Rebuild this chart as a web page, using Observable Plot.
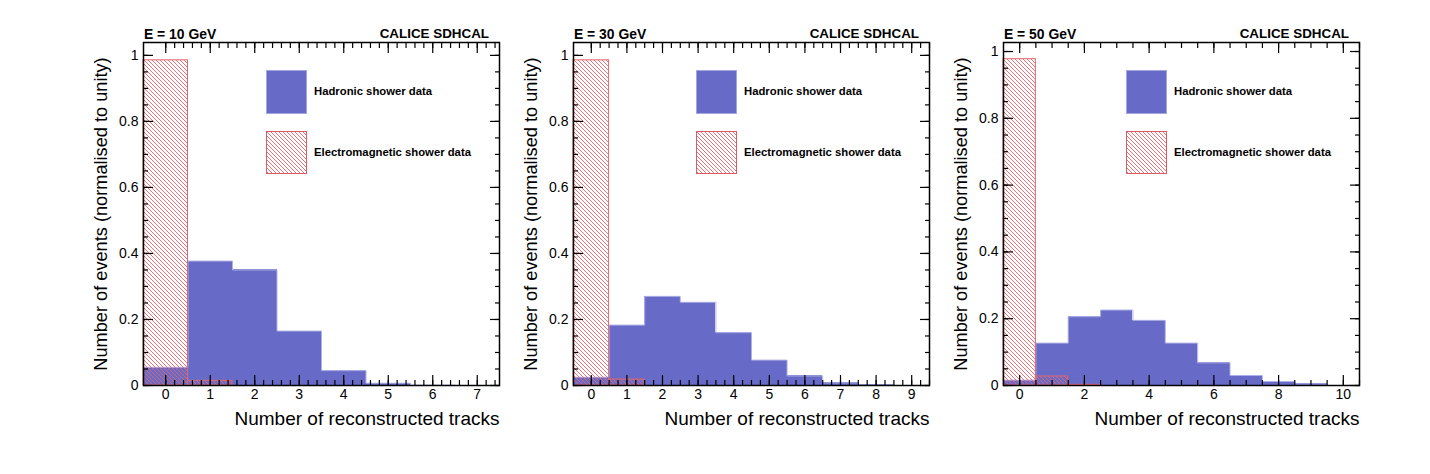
<!DOCTYPE html>
<html>
<head>
<meta charset="utf-8">
<script src="https://cdn.jsdelivr.net/npm/d3@7"></script>
<script src="https://cdn.jsdelivr.net/npm/@observablehq/plot@0.6"></script>
<style>
  html, body { margin: 0; padding: 0; background: #fff; overflow: hidden; }
  body { width: 1430px; height: 474px; position: relative; font-family: "Liberation Sans", sans-serif; }
  .panel { position: absolute; top: 0; width: 430px; height: 474px; }
  .panel svg { position: absolute; left: 0; top: 0; }
  .head { position: absolute; top: 27px; font-size: 13.4px; font-weight: bold; line-height: 14px; color: #000; }
  .swatch { position: absolute; left: 186px; width: 41px; box-sizing: border-box; }
  .had { top: 70px; height: 44px; background: #676bc7; border: 1px solid #a3a6e0; }
  .em { top: 131px; height: 43px; border: 1px solid #dd5a62;
    background-image: url("data:image/svg+xml,%3Csvg xmlns='http://www.w3.org/2000/svg' width='4' height='4'%3E%3Cpath d='M-1,-1L5,5M-1,3L1,5M3,-1L5,1' stroke='%23e4646b' stroke-width='0.9' fill='none'/%3E%3C/svg%3E"); }
  .entry { position: absolute; left: 234px; font-size: 11.3px; font-weight: bold; line-height: 12px; white-space: nowrap; color: #000; }
</style>
</head>
<body>
<svg width="0" height="0" style="position:absolute">
  <defs>
    <pattern id="hatch" width="4" height="4" patternUnits="userSpaceOnUse">
      <path d="M-1,-1L5,5M-1,3L1,5M3,-1L5,1" stroke="#e4646b" stroke-width="0.9" fill="none"></path>
    </pattern>
  </defs>
</svg>
<script>
const energies = [10, 30, 50];
const panelLefts = [80, 510, 940];

const hadronic10 = [0.055, 0.377, 0.35, 0.165, 0.045, 0.007, 0.001];
const hadronic30 = [0.025, 0.183, 0.27, 0.252, 0.16, 0.077, 0.029, 0.008, 0.002];
const hadronic50 = [0.016, 0.127, 0.206, 0.226, 0.195, 0.127, 0.068, 0.03, 0.012, 0.005];
const em10 = [0.985, 0.014];
const em30 = [0.985, 0.018];
const em50 = [0.977, 0.027, 0.002];

const xMax = [7.5, 9.5, 10.5];
const yMax = [1.039, 1.039, 1.027];
const xMajor = [1, 1, 2];
const xMinor = [0.2, 0.25, 0.5];

const hadronic = [hadronic10, hadronic30, hadronic50];
const em = [em10, em30, em50];

// ROOT style ticks, pointing inwards on all four sides
function ticksX(step, max, size) {
  const vals = d3.range(0, max + 1e-6, step);
  return ["bottom", "top"].map(anchor => Plot.axisX(vals, {
    anchor, tickSize: -size, label: null, text: null, stroke: "#000", strokeWidth: 1.2
  }));
}
function ticksY(step, max, size) {
  const vals = d3.range(0, max + 1e-6, step);
  return ["left", "right"].map(anchor => Plot.axisY(vals, {
    anchor, tickSize: -size, label: null, text: null, stroke: "#000", strokeWidth: 1.2
  }));
}
function bins(values) {
  return values.map((v, i) => ({x1: i - 0.5, x2: i + 0.5, y: v}));
}
// outline of the histogram, for the pale edge on the filled bars
function outline(values) {
  const pts = values.map((v, i) => ({x: i - 0.5, y: v}));
  pts.push({x: values.length - 0.5, y: 0});
  return pts;
}

energies.forEach((e, k) => {
  const chart = Plot.plot({
    width: 430,
    height: 474,
    marginLeft: 63,
    marginRight: 11,
    marginTop: 42,
    marginBottom: 89,
    style: {fontFamily: "Liberation Sans", background: "transparent"},
    x: {domain: [-0.5, xMax[k]]},
    y: {domain: [0, yMax[k]]},
    marks: [
      Plot.rectY(bins(hadronic[k]), {x1: "x1", x2: "x2", y: "y", fill: "#676bc7", inset: 0, shapeRendering: "crispEdges"}),
      Plot.line(outline(hadronic[k]), {x: "x", y: "y", curve: "step-after", stroke: "#b0b2e6", strokeWidth: 1}),
      Plot.rectY(bins(em[k]), {x1: "x1", x2: "x2", y: "y", fill: "url(#hatch)", stroke: "#e0666c", strokeWidth: 1, inset: 0}),
      ...ticksX(xMinor[k], xMax[k], 5),
      ...ticksX(xMajor[k], xMax[k], 10),
      ...ticksY(0.05, 1, 5),
      ...ticksY(0.2, 1, 10),
      Plot.axisX(d3.range(0, xMax[k], xMajor[k]), {
        anchor: "bottom", tickSize: 0, tickPadding: 4, fontSize: 14, label: null,
        tickFormat: d => d
      }),
      Plot.text(["Number of reconstructed tracks"], {
        frameAnchor: "bottom-right", textAnchor: "end", dy: 39, fontSize: 19, text: d => d
      }),
      Plot.axisY(d3.range(0, 1.01, 0.2), {
        anchor: "left", tickSize: 0, tickPadding: 5, fontSize: 14,
        label: "Number of events (normalised to unity)", labelAnchor: "center", labelArrow: "none", labelOffset: 49,
        tickFormat: d => +d.toFixed(1)
      }),
      Plot.frame({stroke: "#000", strokeWidth: 1.5})
    ]
  });
  d3.select(chart).selectAll("[aria-label='y-axis label'] text").style("font-size", "18.2px");

  const panel = d3.select("body").append("div").attr("class", "panel").style("left", panelLefts[k] + "px");
  panel.append(() => chart);
  panel.append("div").attr("class", "head").style("left", "64px").style("font-size", "13.9px").text(`E = ${e} GeV`);
  panel.append("div").attr("class", "head").style("right", "21px").text("CALICE SDHCAL");
  panel.append("div").attr("class", "swatch had");
  panel.append("div").attr("class", "swatch em");
  panel.append("div").attr("class", "entry").style("top", "85px").text("Hadronic shower data");
  panel.append("div").attr("class", "entry").style("top", "146px").text("Electromagnetic shower data");
});
</script>
</body>
</html>
